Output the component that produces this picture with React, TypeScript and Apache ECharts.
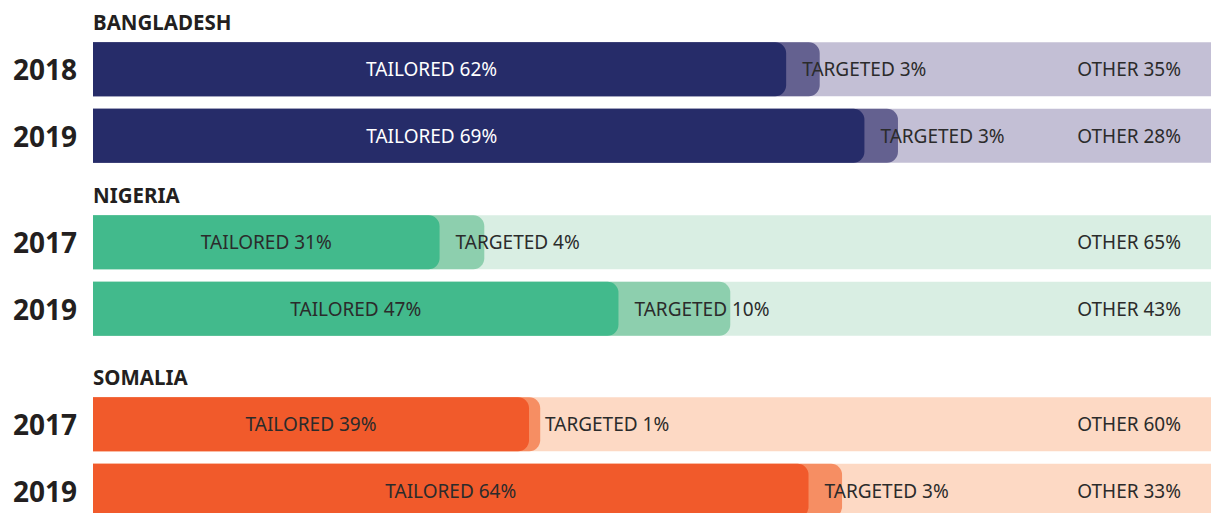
import React, { useEffect, useRef } from "react";
import * as echarts from "echarts";

const countries = ["BANGLADESH", "NIGERIA", "SOMALIA"];
const years = [
  ["2018", "2019"],
  ["2017", "2019"],
  ["2017", "2019"],
];
const tailored = [
  [62, 69],
  [31, 47],
  [39, 64],
];
const targeted = [
  [3, 3],
  [4, 10],
  [1, 3],
];
const other = [
  [35, 28],
  [65, 43],
  [60, 33],
];
const palette = [
  { tailored: "#262c69", targeted: "#646190", other: "#c3bfd5", tailoredText: "#ffffff" },
  { tailored: "#42ba8c", targeted: "#8dcfae", other: "#d9eee3", tailoredText: "#2b2b2b" },
  { tailored: "#f15a2b", targeted: "#f68e63", other: "#fdd9c4", tailoredText: "#2b2b2b" },
];
const gridTops = [36, 209, 391];
// horizontal nudges of the "TAILORED" labels (style only)
const tailoredLabelShift = [
  [-8, -47],
  [0, 0],
  [0, 0],
];

const FONT = "'Source Sans Pro', 'Noto Sans', sans-serif";

export default function App() {
  const ref = useRef<HTMLDivElement>(null);
  useEffect(() => {
    if (!ref.current) return;
    const chart = echarts.init(ref.current, undefined, { renderer: "svg" });
    const grid: any[] = [];
    const xAxis: any[] = [];
    const yAxis: any[] = [];
    const series: any[] = [];
    const graphic: any[] = [];
    const labelBase = { fontFamily: FONT, fontSize: 19, color: "#2b2b2b" };
    countries.forEach((name, i) => {
      grid.push({ left: 93, right: 0, top: gridTops[i], height: 133 });
      xAxis.push({ gridIndex: i, type: "value", min: 0, max: 100, show: false });
      yAxis.push({
        gridIndex: i,
        type: "category",
        inverse: true,
        data: years[i],
        axisLine: { show: false },
        axisTick: { show: false },
        axisLabel: { margin: 16, fontFamily: FONT, fontSize: 28, fontWeight: "bold", color: "#231f20" },
      });
      const common = { type: "bar", xAxisIndex: i, yAxisIndex: i, barWidth: 54, barGap: "-100%", silent: true };
      series.push({
        ...common,
        name: name + " other",
        data: other[i].map(() => 100),
        itemStyle: { color: palette[i].other },
        label: {
          show: true,
          position: "insideRight",
          distance: 30,
          ...labelBase,
          formatter: (p: any) => "OTHER " + other[i][p.dataIndex] + "%",
        },
      });
      series.push({
        ...common,
        name: name + " targeted",
        data: tailored[i].map((v, j) => v + targeted[i][j]),
        itemStyle: { color: palette[i].targeted, borderRadius: [0, 11, 11, 0] },
      });
      series.push({
        ...common,
        name: name + " tailored",
        data: tailored[i].map((v, j) => ({
          value: v,
          label: { offset: [tailoredLabelShift[i][j], 0] },
        })),
        itemStyle: { color: palette[i].tailored, borderRadius: [0, 11, 11, 0] },
        label: {
          show: true,
          position: "inside",
          ...labelBase,
          color: palette[i].tailoredText,
          formatter: (p: any) => "TAILORED " + tailored[i][p.dataIndex] + "%",
        },
      });
      series.push({
        ...common,
        name: name + " targeted label",
        data: tailored[i],
        itemStyle: { color: "rgba(0,0,0,0)" },
        label: {
          show: true,
          position: "right",
          distance: 16,
          ...labelBase,
          formatter: (p: any) => "TARGETED " + targeted[i][p.dataIndex] + "%",
        },
      });
      graphic.push({
        type: "text",
        left: 93,
        top: gridTops[i] - 25,
        style: { text: name, fontFamily: FONT, fontSize: 20.5, fontWeight: "bold", fill: "#231f20" },
      });
    });
    chart.setOption({
      animation: false,
      grid,
      xAxis,
      yAxis,
      series,
      graphic,
    });
    return () => chart.dispose();
  }, []);
  return (
    <div
      ref={ref}
      style={{ position: "fixed", left: 0, top: 0, width: 1211, height: 530, background: "#ffffff" }}
    />
  );
}
